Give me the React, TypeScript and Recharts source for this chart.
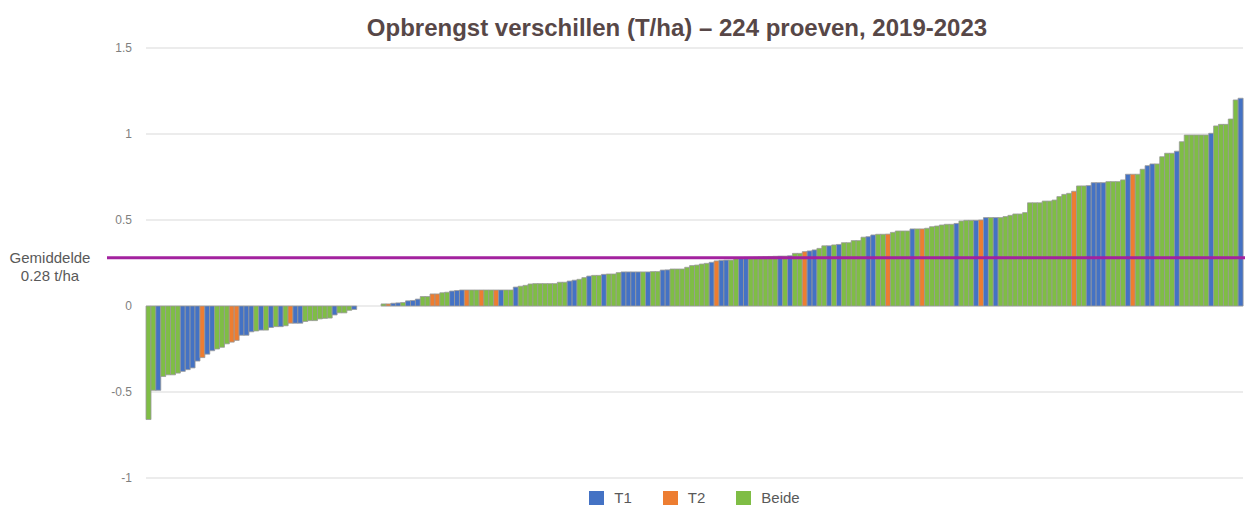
import { Bar, BarChart, CartesianGrid, Cell, Legend, ReferenceLine, XAxis, YAxis } from "recharts"

// yield difference per trial, sorted ascending (t/ha)
const yieldDiff = [
  -0.66, -0.49, -0.49, -0.41, -0.4, -0.4, -0.39, -0.38, -0.37, -0.36,
  -0.32, -0.3, -0.28, -0.26, -0.25, -0.24, -0.22, -0.21, -0.2, -0.17,
  -0.17, -0.15, -0.145, -0.14, -0.14, -0.125, -0.12, -0.12, -0.115, -0.1,
  -0.1, -0.1, -0.09, -0.085, -0.085, -0.075, -0.072, -0.07, -0.052, -0.04,
  -0.04, -0.025, -0.02, 0, 0, 0, 0, 0, 0.012, 0.012,
  0.016, 0.018, 0.02, 0.03, 0.032, 0.04, 0.055, 0.055, 0.07, 0.07,
  0.077, 0.08, 0.087, 0.09, 0.093, 0.093, 0.093, 0.093, 0.093, 0.093,
  0.093, 0.093, 0.093, 0.093, 0.093, 0.11, 0.115, 0.12, 0.128, 0.13,
  0.13, 0.13, 0.13, 0.13, 0.138, 0.138, 0.145, 0.15, 0.155, 0.165,
  0.174, 0.178, 0.178, 0.184, 0.186, 0.186, 0.194, 0.198, 0.198, 0.198,
  0.198, 0.198, 0.198, 0.2, 0.2, 0.209, 0.21, 0.215, 0.215, 0.215,
  0.225, 0.235, 0.238, 0.244, 0.248, 0.254, 0.262, 0.265, 0.267, 0.267,
  0.28, 0.282, 0.283, 0.284, 0.285, 0.286, 0.287, 0.288, 0.289, 0.29,
  0.29, 0.292, 0.306, 0.306, 0.316, 0.32, 0.326, 0.335, 0.35, 0.35,
  0.355, 0.358, 0.368, 0.368, 0.38, 0.38, 0.4, 0.403, 0.413, 0.417,
  0.417, 0.418, 0.428, 0.436, 0.436, 0.436, 0.448, 0.448, 0.448, 0.452,
  0.461, 0.465, 0.471, 0.475, 0.475, 0.48, 0.494, 0.498, 0.498, 0.498,
  0.5, 0.514, 0.514, 0.514, 0.514, 0.52, 0.527, 0.535, 0.535, 0.543,
  0.6, 0.6, 0.6, 0.61, 0.61, 0.616, 0.636, 0.649, 0.655, 0.667,
  0.698, 0.698, 0.7, 0.717, 0.717, 0.717, 0.723, 0.723, 0.723, 0.733,
  0.766, 0.766, 0.766, 0.795, 0.816, 0.826, 0.826, 0.868, 0.888, 0.888,
  0.9, 0.955, 0.994, 0.994, 0.994, 0.994, 0.994, 1.004, 1.047, 1.056,
  1.056, 1.087, 1.198, 1.208,
]

// treatment per trial: B = T1, O = T2, G = Beide
const treatmentCodes = (
  "GGBGGGGBBB" + "BOBBGGGOOB" + "BBGBGBGBGO" + "BBGGGGGGBG" + "GGBGGGGGGO" +
  "BBGBBBGGOO" + "GGBBBOGGOG" + "GOBGGBGGGG" + "GGGGGGBBGG" + "BGGBGGGBBB" +
  "BGBGGBBGGG" + "GGGGGBOBBG" + "GBBGGGGGGB" + "GBGGOBBGGB" + "GBGGGGGBBG" +
  "GOGGGGBGOG" + "GGGGGBGGGB" + "OBGBGGGGGG" + "GGGGGGGGGO" + "GGBBBBGGGG" +
  "BOGGBBGGGG" + "BGGGGGGBGG" + "GGGB"
).split("")

const seriesNames = ["T1", "T2", "Beide"]
const seriesColors = ["#4472c4", "#ed7d31", "#7fbd45"]
const codeIndex: Record<string, number> = { B: 0, O: 1, G: 2 }

const yTicks = [-1, -0.5, 0, 0.5, 1, 1.5]
const meanValue = 0.28

const data = yieldDiff.map((v, i) => ({ trial: i + 1, diff: v, type: codeIndex[treatmentCodes[i]] }))

const font = "'Liberation Sans', Arial, sans-serif"

const renderLegend = () => (
  <div style={{ display: "flex", justifyContent: "center", gap: 31, fontFamily: font, fontSize: 15, color: "#595959" }}>
    {seriesNames.map((name, i) => (
      <div key={name} style={{ display: "flex", alignItems: "center" }}>
        <span style={{ display: "inline-block", width: 15, height: 14, background: seriesColors[i], marginRight: 10 }} />
        <span>{name}</span>
      </div>
    ))}
  </div>
)

const meanLine = (p: any) => (
  <g>
    <line x1={p.x1 - 39} x2={p.x2 + 2} y1={p.y1} y2={p.y2} stroke="#a3229f" strokeWidth={3} />
    <text x={p.x1 - 96} y={p.y1 + 5} textAnchor="middle" fontSize={15} fill="#595959" fontFamily={font}>
      Gemiddelde
    </text>
    <text x={p.x1 - 96} y={p.y1 + 23} textAnchor="middle" fontSize={15} fill="#595959" fontFamily={font}>
      {meanValue.toFixed(2)} t/ha
    </text>
  </g>
)

export default function App() {
  return (
    <div style={{ position: "absolute", left: 0, top: 0, width: 1245, height: 506, background: "#fff" }}>
      <div
        style={{
          position: "absolute",
          top: 14,
          left: 0,
          width: 1354,
          textAlign: "center",
          fontFamily: font,
          fontWeight: "bold",
          fontSize: 24,
          color: "#574747",
        }}
      >
        Opbrengst verschillen (T/ha) – 224 proeven, 2019-2023
      </div>
      <BarChart width={1245} height={506} data={data} margin={{ top: 48, right: 2, bottom: 28, left: 0 }} barCategoryGap={0}>
        <CartesianGrid vertical={false} stroke="#d9d9d9" />
        <XAxis dataKey="trial" hide />
        <YAxis
          width={146}
          domain={[-1, 1.5]}
          ticks={yTicks}
          axisLine={false}
          tickLine={false}
          tickMargin={8}
          tick={{ fontSize: 12, fill: "#7f7f7f", fontFamily: font }}
        />
        <Bar dataKey="diff" isAnimationActive={false} stroke="#999999" strokeWidth={0.8}>
          {data.map((d) => (
            <Cell key={d.trial} fill={seriesColors[d.type]} />
          ))}
        </Bar>
        <ReferenceLine y={meanValue} shape={meanLine} />
        <Legend
          layout="horizontal"
          verticalAlign="middle"
          align="center"
          content={renderLegend}
          wrapperStyle={{ top: 489, left: 146, width: 1097 }}
        />
      </BarChart>
    </div>
  )
}
